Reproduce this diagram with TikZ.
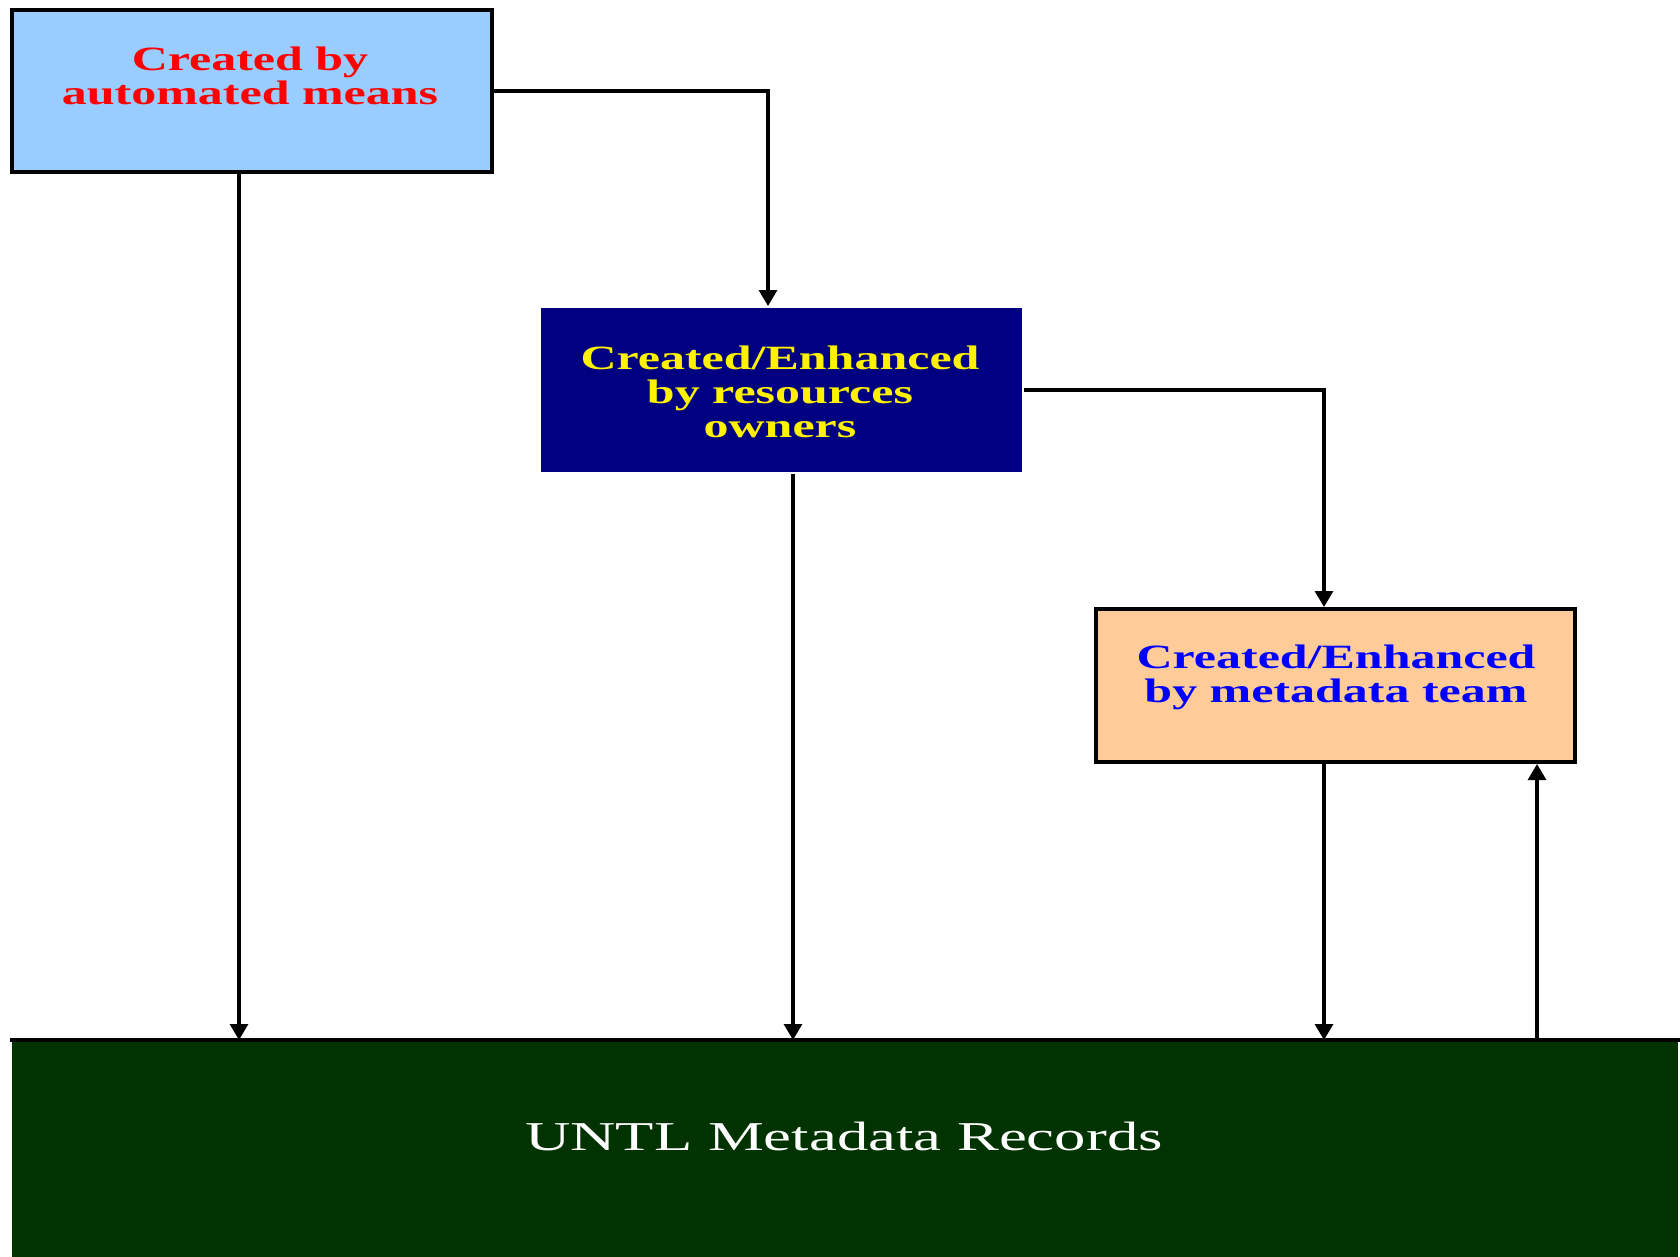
\documentclass[tikz,border=0pt]{standalone}
\usepackage{fontspec}
\setmainfont{Liberation Serif}
\usetikzlibrary{arrows.meta}
\definecolor{lblue}{HTML}{99CCFF}
\definecolor{navy}{HTML}{000080}
\definecolor{peach}{HTML}{FFCC99}
\definecolor{dgreen}{HTML}{003300}
\begin{document}
\begin{tikzpicture}[x=0.5pt,y=-0.5pt,
  box/.style={rectangle, inner sep=0pt, line width=2pt},
  conn/.style={line width=1.6pt},
  arr/.style={conn, -{Triangle[width=9pt,length=8pt]}},
  lbl/.style={align=center, font=\fontsize{17}{17}\selectfont\bfseries, xscale=1.47, transform shape, inner sep=0pt},
  lblw/.style={align=center, font=\fontsize{20.5}{24}\selectfont, xscale=1.53, transform shape, inner sep=0pt}]
\useasboundingbox[fill=white] (0,0) rectangle (1680,1257);
% boxes
\node[box, draw=black, fill=lblue, minimum width=240pt, minimum height=81pt] (b1) at (252,91) {};
\node[box, fill=navy, minimum width=240.5pt, minimum height=82pt] (b2) at (781.5,390) {};
\node[box, draw=black, fill=peach, minimum width=239.5pt, minimum height=76.5pt] (b3) at (1335.5,685.5) {};
\node[box, fill=dgreen, minimum width=833pt, minimum height=107.5pt] (b4) at (845,1149.5) {};
\draw[line width=2pt] (b4.north west) -- (b4.north east);
% texts
\node[lbl, text=red] (t1) at (250,76) {Created by\\automated means};
\node[lbl, text=yellow] (t2) at (780,392) {Created/Enhanced\\by resources\\owners};
\node[lbl, text=blue] (t3) at (1336,677) {Created/Enhanced\\by metadata team};
\node[lblw, text=white] (t4) at (844,1136) {UNTL Metadata Records};
% connector positions
\coordinate (xa) at (239,0);
\coordinate (xb) at (768,0);
\coordinate (xc) at (793,0);
\coordinate (xd) at (1324,0);
\coordinate (xe) at (1537,0);
\draw[arr] (xa |- b1.south) -- (xa |- b4.north);
\draw[arr] (b1.east) -| (xb |- b2.north);
\draw[arr] (xc |- b2.south) -- (xc |- b4.north);
\draw[arr] (b2.east) -| (xd |- b3.north);
\draw[arr] (xd |- b3.south) -- (xd |- b4.north);
\draw[arr] (xe |- b4.north) -- (xe |- b3.south);
\end{tikzpicture}
\end{document}
